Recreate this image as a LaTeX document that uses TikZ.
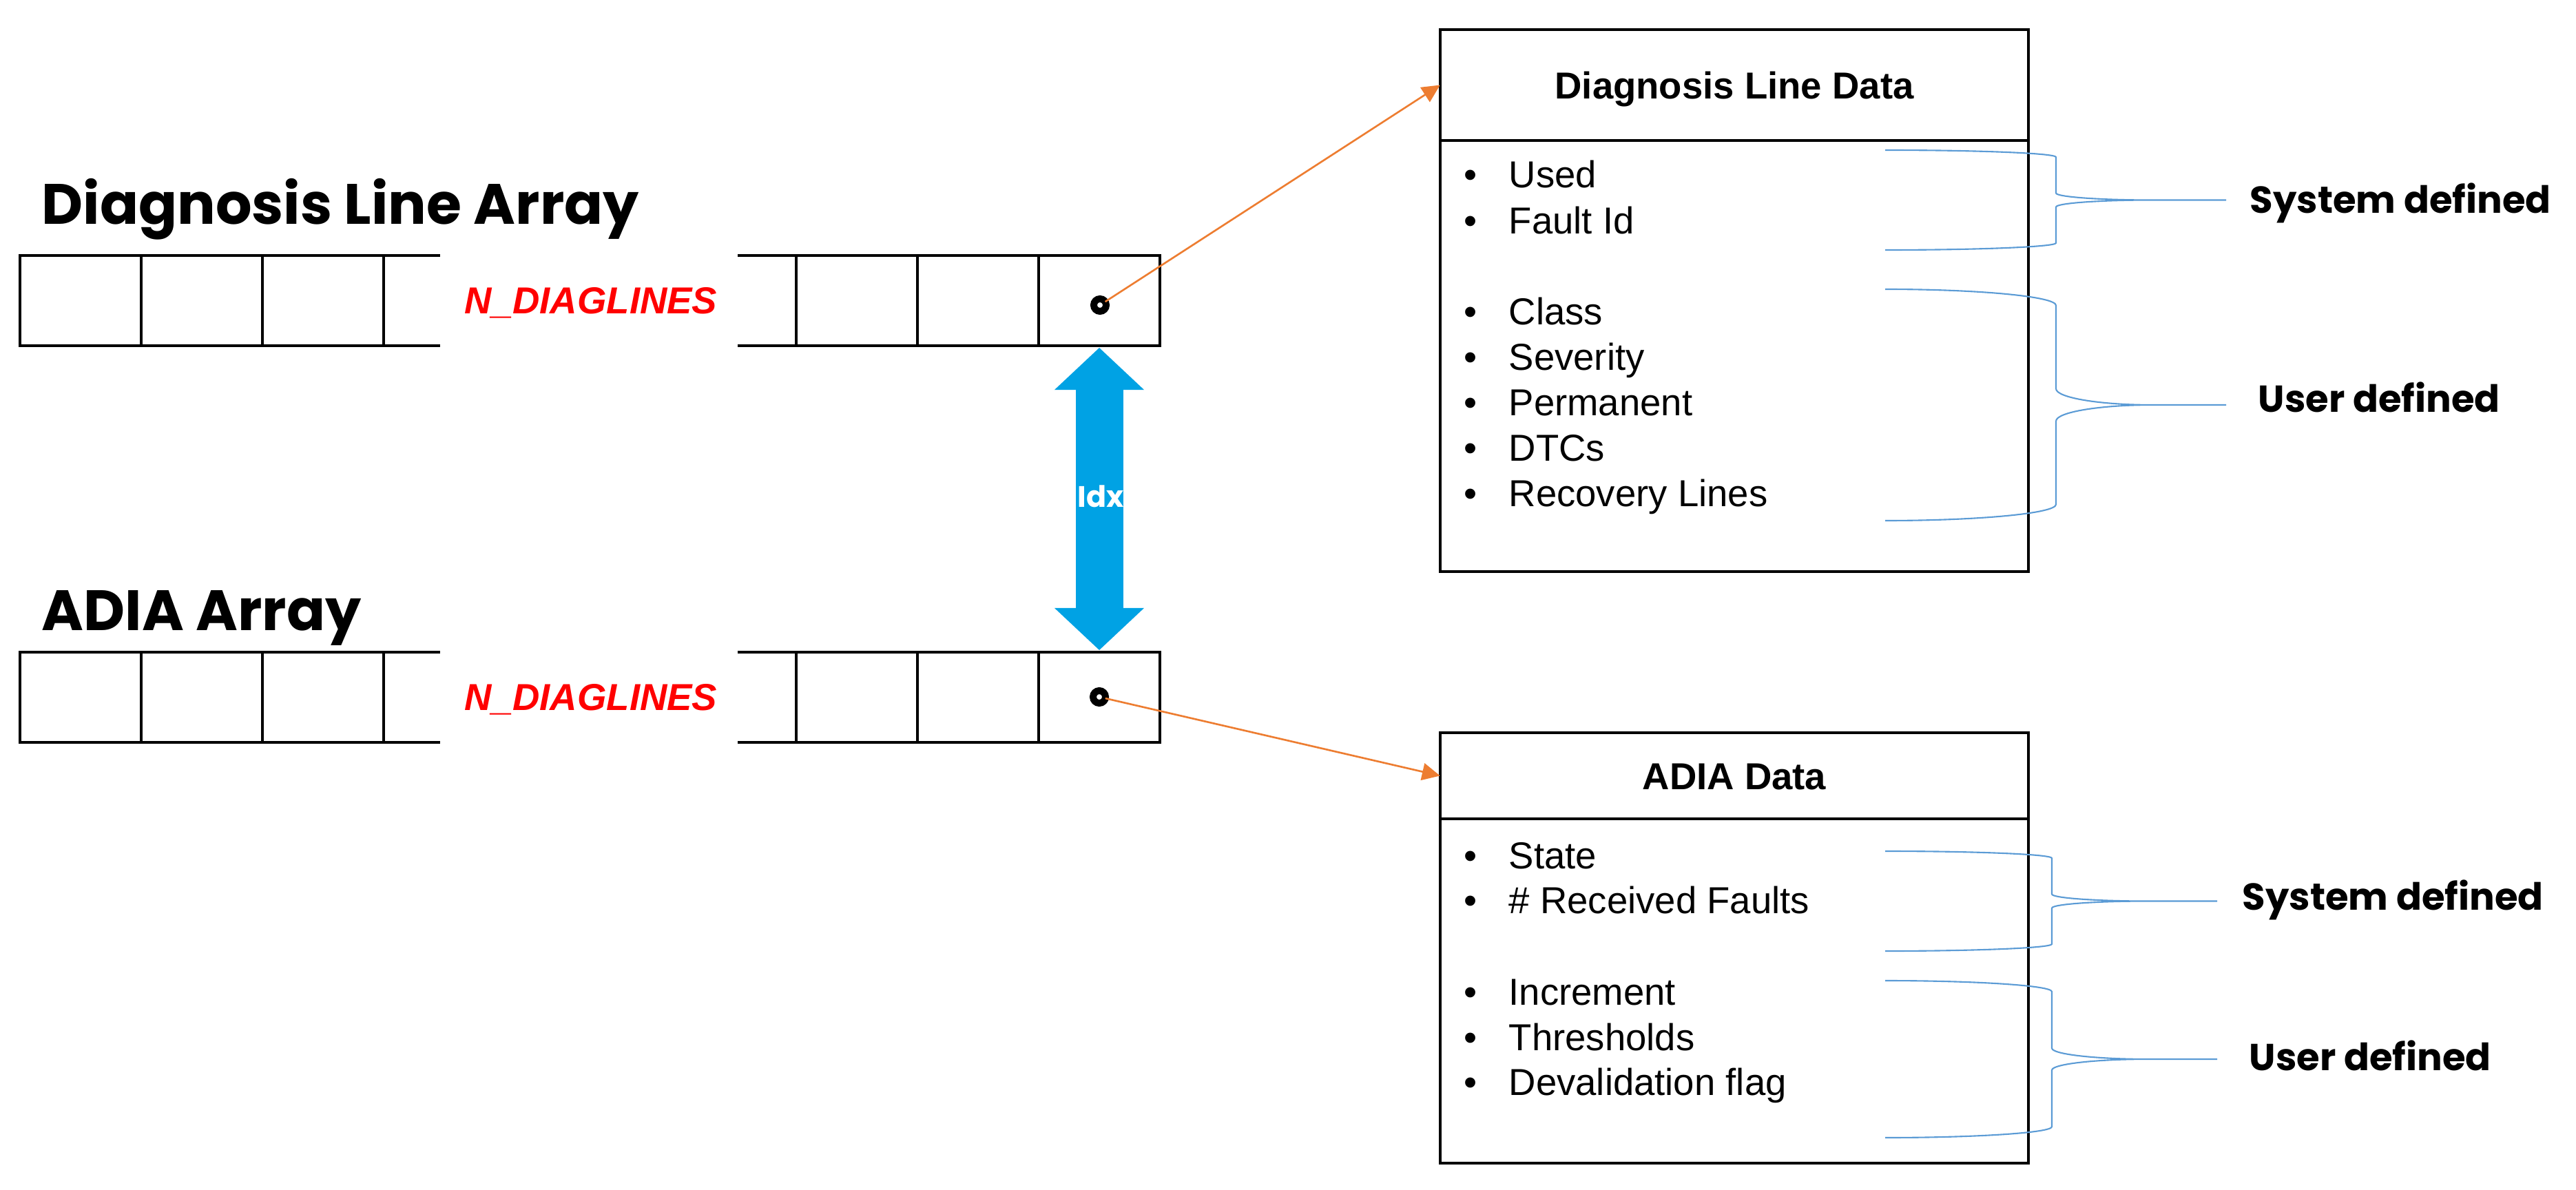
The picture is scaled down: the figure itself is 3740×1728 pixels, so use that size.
\documentclass[tikz,border=0pt]{standalone}
\usepackage{fontspec}
\setmainfont{Liberation Sans}
\newfontfamily\poppins{Poppins}
\usetikzlibrary{arrows.meta,positioning}

\definecolor{ptrorange}{HTML}{ED7D31}
\definecolor{bracketblue}{HTML}{5B9BD5}
\definecolor{idxblue}{RGB}{0,162,228}

\tikzset{
  cell/.style={draw,line width=1.1pt,minimum width=1.76cm,minimum height=1.31cm,inner sep=0pt,outer sep=0pt},
  arrayline/.style={line width=1.1pt},
  ptr/.style={circle,draw,fill=white,line width=2.85pt,minimum size=0.18cm,inner sep=0pt,outer sep=0pt},
  ptrarrow/.style={ptrorange,line width=0.75pt,-{Triangle[length=7.4pt,width=7.1pt]}},
  idxarrow/.style={idxblue,line width=0.69cm,{Triangle[length=0.61cm,width=1.3cm,line width=0pt]}-{Triangle[length=0.61cm,width=1.3cm,line width=0pt]},shorten <=0.03cm,shorten >=0.03cm},
  title/.style={anchor=base west,inner sep=0pt,font=\poppins\bfseries\fontsize{23.5}{28}\selectfont},
  count/.style={red,inner sep=0pt,text height=0.39cm,text depth=0pt,font=\bfseries\itshape\fontsize{15.5}{18}\selectfont},
  idx/.style={white,inner sep=0pt,text height=0.30cm,text depth=0pt,font=\poppins\bfseries\fontsize{12.2}{14}\selectfont},
  header/.style={draw,line width=1.1pt,minimum width=8.54cm,inner sep=0pt,outer sep=0pt,text height=0.39cm,text depth=0pt,font=\bfseries\fontsize{15.5}{18}\selectfont},
  body/.style={draw,line width=1.1pt,minimum width=8.54cm,inner sep=0pt,outer sep=0pt},
  item/.style={anchor=west,inner sep=0pt,text height=0.39cm,text depth=0pt,font=\fontsize{15.5}{18}\selectfont},
  bracket/.style={bracketblue,line width=0.6pt},
  side/.style={anchor=west,inner sep=0pt,text height=0.38cm,text depth=0pt,font=\poppins\bfseries\fontsize{15.5}{18}\selectfont}
}

\begin{document}
\begin{tikzpicture}[x=0.01cm,y=-0.01cm,text centered]
  \useasboundingbox (0,0) rectangle (3740,1728);

  \node (DLAT) at (60,326) [title] {Diagnosis Line Array};
  \node (ADAT) at (60,915) [title] {ADIA Array};

  \foreach \i/\x in {1/117,2/293,3/469,4/1244,5/1420,6/1596} {
    \node (DLA\i) at (\x,436.5) [cell] {};
    \node (ADA\i) at (\x,1012.5) [cell] {};
  }
  \foreach \a in {DLA,ADA} {
    \draw[arrayline] (\a3.north east) -- ++(82,0);
    \draw[arrayline] (\a3.south east) -- ++(82,0);
    \draw[arrayline] (\a4.north west) -- ++(-85,0);
    \draw[arrayline] (\a4.south west) -- ++(-85,0);
  }

  \node (DLN) at (858,436) [count] {N\_DIAGLINES};
  \node (ADN) at (858,1012) [count] {N\_DIAGLINES};

  \node (DLP) at (1597,443) [ptr] {};
  \node (ADP) at (1596,1012) [ptr] {};

  \draw[idxarrow] (DLA6.south) -- (ADA6.north);
  \node (IDX) at (1598,721) [idx] {Idx};

  \node (DLD) at (2518,123.5) [header,minimum height=1.61cm] {Diagnosis Line Data};
  \node (DLB) [body,below=0pt of DLD,minimum height=6.26cm] {};
  \node (ADD) at (2518,1126.5) [header,minimum height=1.25cm] {ADIA Data};
  \node (ADB) [body,below=0pt of ADD,minimum height=5.0cm] {};

  \draw[ptrarrow] (DLP) -- (DLD.west);
  \draw[ptrarrow] (ADP) -- (ADD.west);

  \foreach \t [count=\i] in {Used,Fault Id}
    \node (DLS\i) at (2190,{253+(\i-1)*66.5}) [item] {\llap{\textbullet\hspace{0.465cm}}\t};
  \foreach \t [count=\i] in {Class,Severity,Permanent,DTCs,Recovery Lines}
    \node (DLU\i) at (2190,{452+(\i-1)*66}) [item] {\llap{\textbullet\hspace{0.465cm}}\t};
  \foreach \t [count=\i] in {State,\# Received Faults}
    \node (ADS\i) at (2190,{1241.5+(\i-1)*65.5}) [item] {\llap{\textbullet\hspace{0.465cm}}\t};
  \foreach \t [count=\i] in {Increment,Thresholds,Devalidation flag}
    \node (ADU\i) at (2190,{1440+(\i-1)*65.5}) [item] {\llap{\textbullet\hspace{0.465cm}}\t};

  \foreach \t/\b/\m/\x in {218/363/2985/3232,420/756/2985/3232,1236/1381/2979/3219,1424/1652/2979/3219} {
    \pgfmathsetmacro\r{0.07*(\b-\t)}
    \pgfmathsetmacro\c{(\t+\b)/2}
    \pgfmathsetmacro\k{2737+0.55*(\m-2737)}
    \draw[bracket] (2737,\t) .. controls (\k,\t) and (\m,\t+0.45*\r) .. (\m,\t+\r)
      -- (\m,\c-\r) .. controls (\m,\c-0.45*\r) and (\m+63,\c) .. (\m+140,\c) -- (\x,\c)
      (\m+140,\c) .. controls (\m+63,\c) and (\m,\c+0.45*\r) .. (\m,\c+\r)
      -- (\m,\b-\r) .. controls (\m,\b-0.45*\r) and (\k,\b) .. (2737,\b);
  }

  \node (SYS1) at (3266,290) [side] {System defined};
  \node (USR1) at (3278,579) [side] {User defined};
  \node (SYS2) at (3255,1302) [side] {System defined};
  \node (USR2) at (3265,1535) [side] {User defined};

\end{tikzpicture}
\end{document}
